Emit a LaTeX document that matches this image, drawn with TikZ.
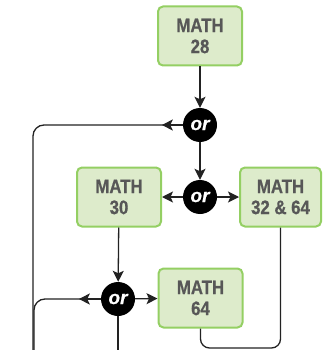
\documentclass[tikz,border=0pt]{standalone}
\usepackage{fontspec}
\usetikzlibrary{arrows.meta}
\newfontfamily\boxfont{Liberation Sans}[FakeStretch=0.86,BoldFeatures={FakeBold=0.7}]
\newfontfamily\orfont{Liberation Sans}[BoldItalicFeatures={FakeBold=0.6}]
\definecolor{boxfill}{HTML}{DDEBCB}
\definecolor{boxline}{HTML}{94CF63}
\definecolor{boxtext}{HTML}{575757}
\definecolor{linecol}{HTML}{222222}
\tikzset{
  course/.style={draw=boxline, fill=boxfill, line width=2pt, rounded corners=5pt,
    minimum width=84pt, minimum height=59pt, inner sep=0pt, align=center,
    font=\boxfont\bfseries\fontsize{19.5}{21}\selectfont, text=boxtext},
  ornode/.style={circle, fill=black, minimum size=34pt, inner sep=0pt,
    font=\orfont\bfseries\itshape\fontsize{19}{19}\selectfont, text=white},
  conn/.style={draw=linecol, line width=1.3pt},
  arr/.style={conn, -{Stealth[length=11pt,width=11pt,inset=2.5pt]}}
}
\begin{document}
\begin{tikzpicture}[x=1pt,y=-1pt]
\useasboundingbox (0,0) rectangle (322,350);
\node[course] (m28) at (200,36) {MATH\\28};
\node[ornode] (or1) at (200,125) {or};
\node[ornode] (or2) at (200,197) {or};
\node[course] (m30) at (119,197) {MATH\\30};
\node[course, minimum width=81pt] (m32) at (280.5,197) {MATH\\32 \& 64};
\node[ornode] (or3) at (118,299) {or};
\node[course] (m64) at (200.5,298) {MATH\\64};
\coordinate (bl1) at (33,350);
\coordinate (bl2) at (34,350);
\coordinate (bl3) at (118,350);
\coordinate (bot) at (240,348);
% connectors
\draw[arr] (m28) -- (or1);
\draw[arr] (or1) -- (or2);
\draw[arr] (or2) -- (m30);
\draw[arr] (or2) -- (m32);
\draw[arr] (m30) -- (or3);
\draw[arr] (or3) -- (m64);
\draw[conn, rounded corners=11pt] (or1.west) -| (bl1);
\draw[arr] (or1.west) -- ++(-21,0);
\draw[conn, rounded corners=11pt] (or3.west) -| (bl2);
\draw[arr] (or3.west) -- ++(-22,0);
\draw[conn] (or3.south) -- (bl3);
\draw[conn, rounded corners=9pt] (m32.south) -- (m32.south |- bot) -| (m64.south);
\end{tikzpicture}
\end{document}
